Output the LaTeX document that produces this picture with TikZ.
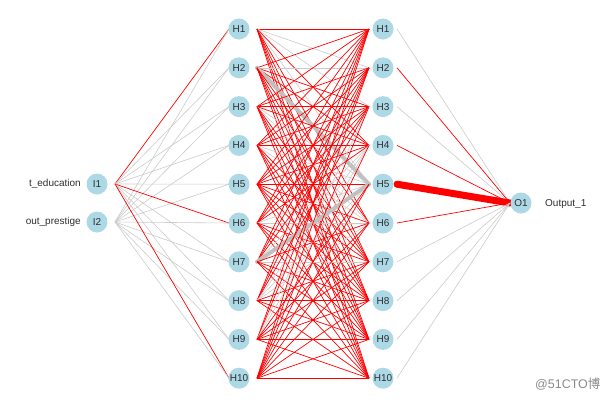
\documentclass[tikz,border=0pt]{standalone}
\usepackage{fontspec}
\setmainfont{Liberation Sans}
\newfontfamily\cjk{Noto Sans CJK SC}
\usetikzlibrary{calc,backgrounds}
\definecolor{nodeblue}{HTML}{ADD8E6}
\definecolor{edgered}{HTML}{FF0000}
\definecolor{edgegrey}{HTML}{CBCBCB}
\definecolor{thickgrey}{HTML}{C0C0C0}
\definecolor{txt}{HTML}{2E2E2E}
\definecolor{wm}{HTML}{8A8A8A}
\tikzset{
  neuron/.style={circle,fill=nodeblue,draw=none,minimum size=21pt,inner sep=0pt,
    font=\fontsize{10}{11}\selectfont,text=txt},
  rw/.style={draw=edgered,line width=0.7pt},
  gw/.style={draw=edgegrey,line width=0.6pt},
  gthick/.style={draw=thickgrey,line width=4pt,line cap=round},
  rthick/.style={draw=edgered,line width=7pt,line cap=round},
  sidelabel/.style={font=\fontsize{10}{12}\selectfont,text=txt,inner sep=0pt},
  % hidden-to-hidden edges that are grey (left i - right j)
  e1-2/.style=gw, e1-3/.style=gw, e2-2/.style=gw, e1-5/.style=gw,
  e2-5/.style=gthick, e3-5/.style=gw, e4-5/.style=gw, e6-5/.style=gw,
  e7-5/.style=gthick, e8-5/.style=gw, e7-4/.style=gw, e8-4/.style=gw,
  e9-4/.style=gw, e3-6/.style=gw, e4-6/.style=gw, e6-6/.style=gw,
  e8-6/.style=gw, e7-7/.style=gw, e9-3/.style=gw,
  % input edges
  i1-1/.style=rw, i1-6/.style=rw, i1-10/.style=rw,
  % output edges
  o2/.style=rw, o4/.style=rw, o5/.style=rthick, o6/.style=rw,
}
\begin{document}
\begin{tikzpicture}[x=1pt,y=-1pt]
\useasboundingbox (0,0) rectangle (600,400);
% nodes
\node[neuron] (I1) at (97,184) {I1};
\node[neuron] (I2) at (97,222) {I2};
\foreach \i in {1,...,10} {
  \pgfmathsetmacro\yy{29+38.8*(\i-1)}
  \node[neuron] (L\i) at (239,\yy) {H\i};
  \node[neuron] (R\i) at (383,\yy) {H\i};
}
\node[neuron] (O1) at (521,203) {O1};
% connector end points
\coordinate (I1o) at ($(I1)+(18,0)$);
\coordinate (I2o) at ($(I2)+(18,0)$);
\coordinate (O1i) at ($(O1)+(-11,0)$);
\foreach \i in {1,...,10} {
  \coordinate (Li\i) at ($(L\i)+(-10,0)$);
  \coordinate (Lo\i) at ($(L\i)+(18,0)$);
  \coordinate (Ri\i) at ($(R\i)+(-14,0)$);
  \coordinate (Ro\i) at ($(R\i)+(14,0)$);
}
% labels
\node[sidelabel,anchor=east] (lab1) at (81,184) {t\_education};
\node[sidelabel,anchor=east] (lab2) at (81,222) {out\_prestige};
\node[sidelabel,anchor=west] (lab3) at (545,204) {Output\_1};
\node[sidelabel,anchor=west,text=wm,font=\fontsize{12.5}{14}\selectfont] (wmark) at (535,384) {@51CTO{\cjk 博}};
% edges
\begin{scope}[on background layer]
  \foreach \j in {1,...,10} {
    \draw[gw, i1-\j/.try] (I1o) -- (Li\j);
    \draw[gw] (I2o) -- (Li\j);
  }
  \foreach \i in {1,...,10} {
    \foreach \j in {1,...,10} {
      \draw[rw, e\i-\j/.try] (Lo\i) -- (Ri\j);
    }
  }
  \foreach \i in {1,...,10} {
    \draw[gw, o\i/.try] (Ro\i) -- (O1i);
  }
\end{scope}
\end{tikzpicture}
\end{document}
